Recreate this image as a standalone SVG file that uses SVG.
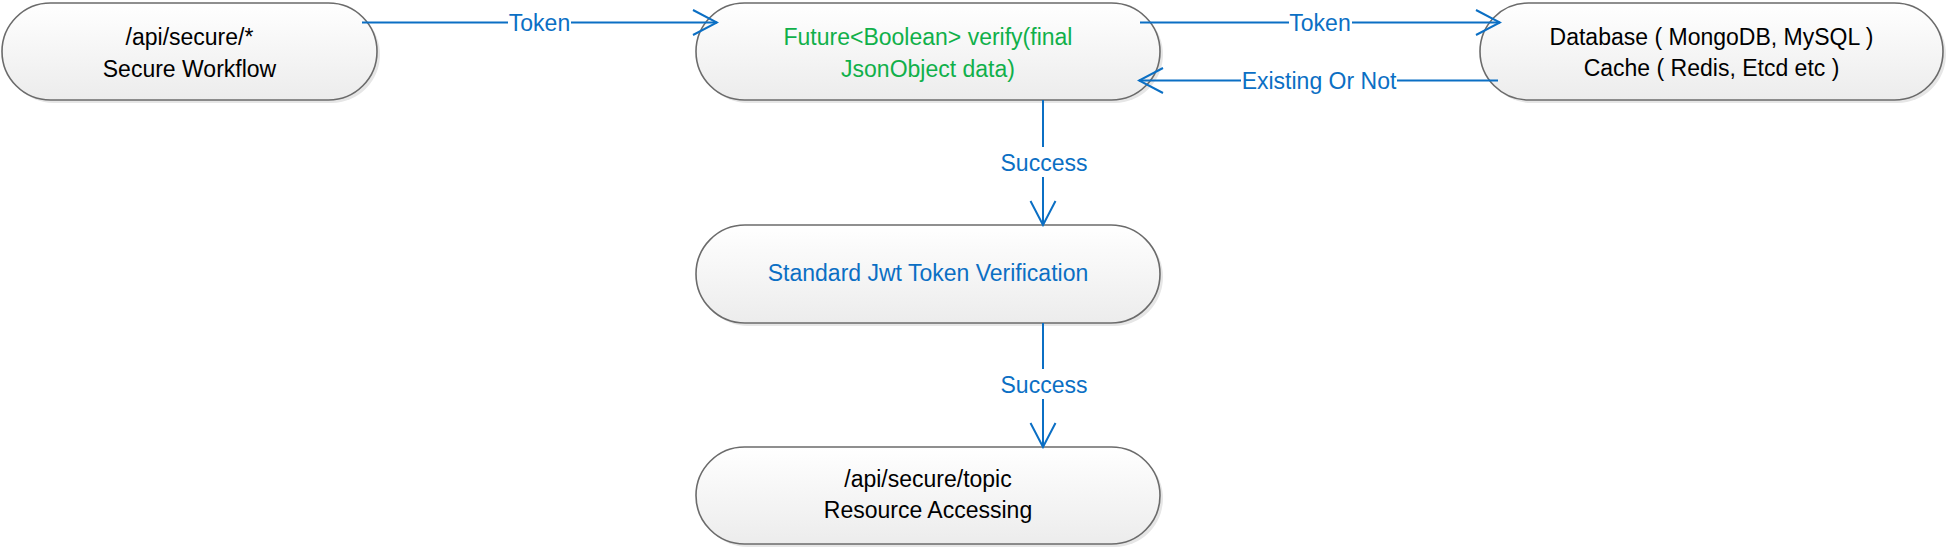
<svg xmlns="http://www.w3.org/2000/svg" width="1950" height="552" viewBox="0 0 1950 552">
<style>
.node{fill:url(#g);stroke:#6b6b6b;stroke-width:1.6}
.shadow{fill:#e6e6e6}
.t{font-family:"Liberation Sans",Arial,sans-serif;font-size:23px;text-anchor:middle}
.black{fill:#000}
.green{fill:#10b04a}
.blue{fill:#0b6fc4}
.edge{stroke:#0b6fc4;stroke-width:2;fill:none}
.lbl{fill:#ffffff}
</style>
<defs>
<linearGradient id="g" x1="0" y1="0" x2="0" y2="1">
<stop offset="0" stop-color="#ffffff"/>
<stop offset="1" stop-color="#ececec"/>
</linearGradient>
<marker id="arr" markerUnits="userSpaceOnUse" viewBox="-1 -1 27 28" refX="24" refY="12.5" markerWidth="27" markerHeight="28" orient="auto">
<path d="M0,0 L24,12.5 L0,25" fill="none" stroke="#0b6fc4" stroke-width="2"/>
</marker>
</defs>
<rect width="1950" height="552" fill="#ffffff"/>

<g id="node-secure-workflow">
<rect class="shadow" x="5" y="6" width="375" height="97" rx="48.5"/>
<rect class="node" x="2" y="3" width="375" height="97" rx="48.5"/>
<text class="t black" x="189.5" y="45">/api/secure/*</text>
<text class="t black" x="189.5" y="77">Secure Workflow</text>
</g>

<g id="node-verify">
<rect class="shadow" x="699" y="6" width="464" height="97" rx="48.5"/>
<rect class="node" x="696" y="3" width="464" height="97" rx="48.5"/>
<text class="t green" x="928" y="45">Future&lt;Boolean&gt; verify(final</text>
<text class="t green" x="928" y="77">JsonObject data)</text>
</g>

<g id="node-database">
<rect class="shadow" x="1483" y="6" width="463" height="97" rx="48.5"/>
<rect class="node" x="1480" y="3" width="463" height="97" rx="48.5"/>
<text class="t black" x="1711.5" y="45">Database ( MongoDB, MySQL )</text>
<text class="t black" x="1711.5" y="76">Cache ( Redis, Etcd etc )</text>
</g>

<g id="node-jwt">
<rect class="shadow" x="699" y="228" width="464" height="98" rx="49"/>
<rect class="node" x="696" y="225" width="464" height="98" rx="49"/>
<text class="t blue" x="928" y="281">Standard Jwt Token Verification</text>
</g>

<g id="node-topic">
<rect class="shadow" x="699" y="450" width="464" height="97" rx="48.5"/>
<rect class="node" x="696" y="447" width="464" height="97" rx="48.5"/>
<text class="t black" x="928" y="487">/api/secure/topic</text>
<text class="t black" x="928" y="518">Resource Accessing</text>
</g>

<g id="connectors">
<line class="edge" x1="362" y1="22.5" x2="717" y2="22.5" marker-end="url(#arr)"/>
<line class="edge" x1="1140" y1="22.5" x2="1500" y2="22.5" marker-end="url(#arr)"/>
<line class="edge" x1="1498" y1="80.5" x2="1139" y2="80.5" marker-end="url(#arr)"/>
<line class="edge" x1="1043" y1="100" x2="1043" y2="225" marker-end="url(#arr)"/>
<line class="edge" x1="1043" y1="323" x2="1043" y2="447" marker-end="url(#arr)"/>
<rect class="lbl" x="508" y="10" width="63" height="26"/>
<text class="t blue" x="539.5" y="31">Token</text>
<rect class="lbl" x="1289" y="10" width="63" height="26"/>
<text class="t blue" x="1320" y="31">Token</text>
<rect class="lbl" x="1241" y="68" width="156" height="26"/>
<text class="t blue" x="1319" y="89">Existing Or Not</text>
<rect class="lbl" x="999" y="147" width="90" height="30"/>
<text class="t blue" x="1044" y="171">Success</text>
<rect class="lbl" x="999" y="369" width="90" height="30"/>
<text class="t blue" x="1044" y="393">Success</text>
</g>
</svg>
